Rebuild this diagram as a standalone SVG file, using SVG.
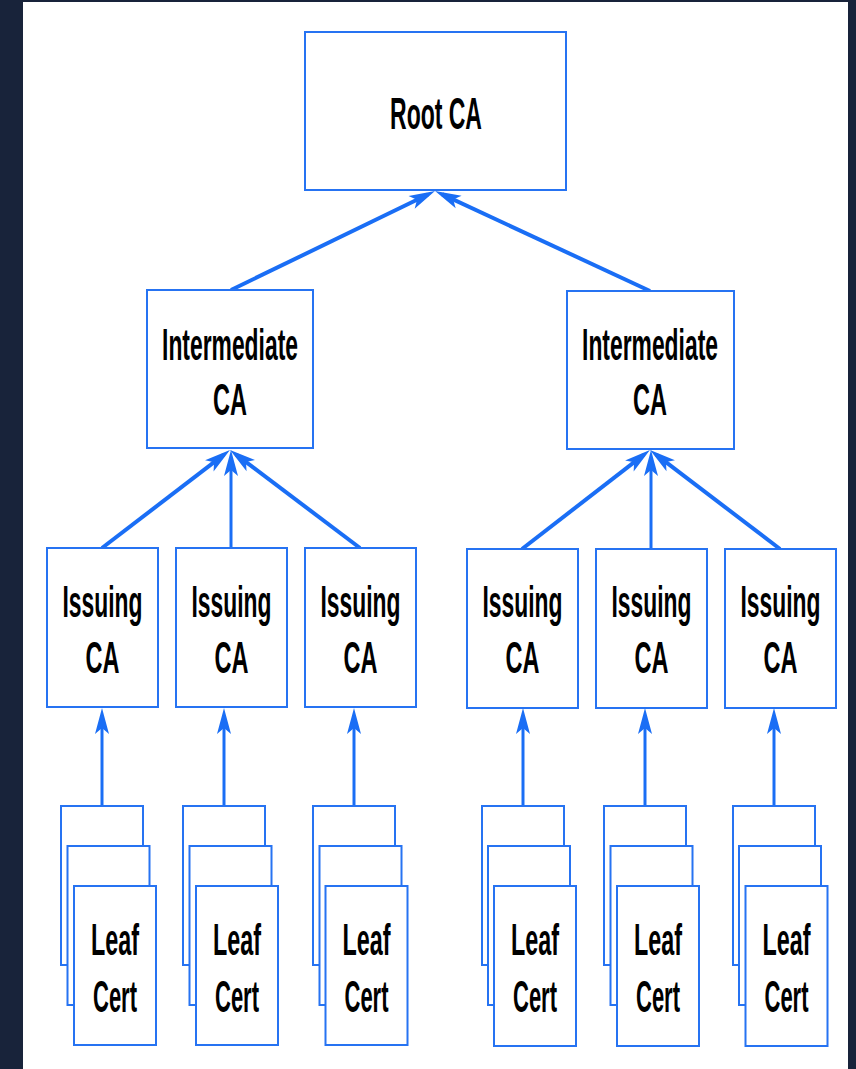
<svg xmlns="http://www.w3.org/2000/svg" width="856" height="1069" viewBox="0 0 856 1069">
<style>
.box{fill:#fff;stroke:#2673f2;stroke-width:2}
.t{font-family:"Liberation Sans",Arial,sans-serif;font-weight:bold;font-size:45px;fill:#000;text-anchor:middle}
.c{stroke:#1a6ef5;stroke-width:4;fill:none;marker-end:url(#ah)}
.v{stroke:#1a6ef5;stroke-width:3;fill:none;marker-end:url(#ah)}
</style>
<defs>
<marker id="ah" markerUnits="userSpaceOnUse" viewBox="-20 -8 30 16" markerWidth="30" markerHeight="16" refX="0" refY="0" orient="auto" overflow="visible">
<path d="M8,0 L-18,-7 L-12,0 L-18,7 Z" fill="#1a6ef5"/>
</marker>
</defs>
<rect x="0" y="0" width="856" height="1069" fill="#18233a"/>
<rect x="23" y="2" width="825" height="1067" fill="#fff"/>

<g id="connectors">
<line class="c" x1="231" y1="290" x2="427.8" y2="194.5"/>
<line class="c" x1="650" y1="291" x2="442.3" y2="194.4"/>
<line class="c" x1="102" y1="548" x2="223.6" y2="454.9"/>
<line class="v" x1="231" y1="548" x2="231" y2="458"/>
<line class="c" x1="360" y1="548" x2="236.4" y2="454.8"/>
<line class="c" x1="522" y1="549" x2="643.6" y2="454.9"/>
<line class="v" x1="651" y1="549" x2="651" y2="458"/>
<line class="c" x1="780" y1="549" x2="656.4" y2="454.8"/>
<line class="v" x1="102" y1="806" x2="102" y2="716"/>
<line class="v" x1="224" y1="806" x2="224" y2="716"/>
<line class="v" x1="354" y1="806" x2="354" y2="716"/>
<line class="v" x1="523" y1="806" x2="523" y2="716"/>
<line class="v" x1="645" y1="806" x2="645" y2="716"/>
<line class="v" x1="774" y1="806" x2="774" y2="716"/>
</g>

<g id="root">
<rect class="box" x="305" y="32" width="261" height="158"/>
<text class="t" transform="translate(436 129) scale(0.511 1)">Root CA</text>
</g>

<g id="int-left">
<rect class="box" x="147" y="290" width="166" height="158"/>
<text class="t" transform="translate(230 360) scale(0.508 1)">Intermediate</text>
<text class="t" transform="translate(230 415) scale(0.523 1)">CA</text>
</g>
<g id="int-right">
<rect class="box" x="567" y="291" width="167" height="158"/>
<text class="t" transform="translate(650 360) scale(0.508 1)">Intermediate</text>
<text class="t" transform="translate(650 415) scale(0.523 1)">CA</text>
</g>

<g id="iss1"><rect class="box" x="47" y="548" width="111" height="159"/>
<text class="t" transform="translate(102.5 617) scale(0.508 1)">Issuing</text>
<text class="t" transform="translate(102.5 673) scale(0.523 1)">CA</text></g>
<g id="iss2"><rect class="box" x="176" y="548" width="111" height="159"/>
<text class="t" transform="translate(231.5 617) scale(0.508 1)">Issuing</text>
<text class="t" transform="translate(231.5 673) scale(0.523 1)">CA</text></g>
<g id="iss3"><rect class="box" x="305" y="548" width="111" height="159"/>
<text class="t" transform="translate(360.5 617) scale(0.508 1)">Issuing</text>
<text class="t" transform="translate(360.5 673) scale(0.523 1)">CA</text></g>
<g id="iss4"><rect class="box" x="467" y="549" width="111" height="159"/>
<text class="t" transform="translate(522.5 617) scale(0.508 1)">Issuing</text>
<text class="t" transform="translate(522.5 673) scale(0.523 1)">CA</text></g>
<g id="iss5"><rect class="box" x="596" y="549" width="111" height="159"/>
<text class="t" transform="translate(651.5 617) scale(0.508 1)">Issuing</text>
<text class="t" transform="translate(651.5 673) scale(0.523 1)">CA</text></g>
<g id="iss6"><rect class="box" x="725" y="549" width="111" height="159"/>
<text class="t" transform="translate(780.5 617) scale(0.508 1)">Issuing</text>
<text class="t" transform="translate(780.5 673) scale(0.523 1)">CA</text></g>

<g id="leaf1">
<rect class="box" x="61" y="806" width="82" height="159"/>
<rect class="box" x="67.5" y="846" width="82" height="159"/>
<rect class="box" x="74" y="886" width="82" height="159"/>
<text class="t" transform="translate(115 955) scale(0.519 1)">Leaf</text>
<text class="t" transform="translate(115 1012) scale(0.489 1)">Cert</text>
</g>
<g id="leaf2">
<rect class="box" x="183" y="806" width="82" height="159"/>
<rect class="box" x="189.5" y="846" width="82" height="159"/>
<rect class="box" x="196" y="886" width="82" height="159"/>
<text class="t" transform="translate(237 955) scale(0.519 1)">Leaf</text>
<text class="t" transform="translate(237 1012) scale(0.489 1)">Cert</text>
</g>
<g id="leaf3">
<rect class="box" x="313" y="806" width="82" height="159"/>
<rect class="box" x="319.5" y="846" width="82" height="159"/>
<rect class="box" x="325.5" y="886" width="82" height="159"/>
<text class="t" transform="translate(366.5 955) scale(0.519 1)">Leaf</text>
<text class="t" transform="translate(366.5 1012) scale(0.489 1)">Cert</text>
</g>
<g id="leaf4">
<rect class="box" x="482" y="806" width="82" height="159"/>
<rect class="box" x="488" y="846" width="82" height="159"/>
<rect class="box" x="494" y="886" width="82" height="160"/>
<text class="t" transform="translate(535 955) scale(0.519 1)">Leaf</text>
<text class="t" transform="translate(535 1012) scale(0.489 1)">Cert</text>
</g>
<g id="leaf5">
<rect class="box" x="604" y="806" width="82" height="159"/>
<rect class="box" x="610.5" y="846" width="82" height="159"/>
<rect class="box" x="617" y="886" width="82" height="160"/>
<text class="t" transform="translate(658 955) scale(0.519 1)">Leaf</text>
<text class="t" transform="translate(658 1012) scale(0.489 1)">Cert</text>
</g>
<g id="leaf6">
<rect class="box" x="733" y="806" width="82" height="159"/>
<rect class="box" x="739" y="846" width="82" height="159"/>
<rect class="box" x="745.5" y="886" width="82" height="160"/>
<text class="t" transform="translate(786.5 955) scale(0.519 1)">Leaf</text>
<text class="t" transform="translate(786.5 1012) scale(0.489 1)">Cert</text>
</g>
</svg>
